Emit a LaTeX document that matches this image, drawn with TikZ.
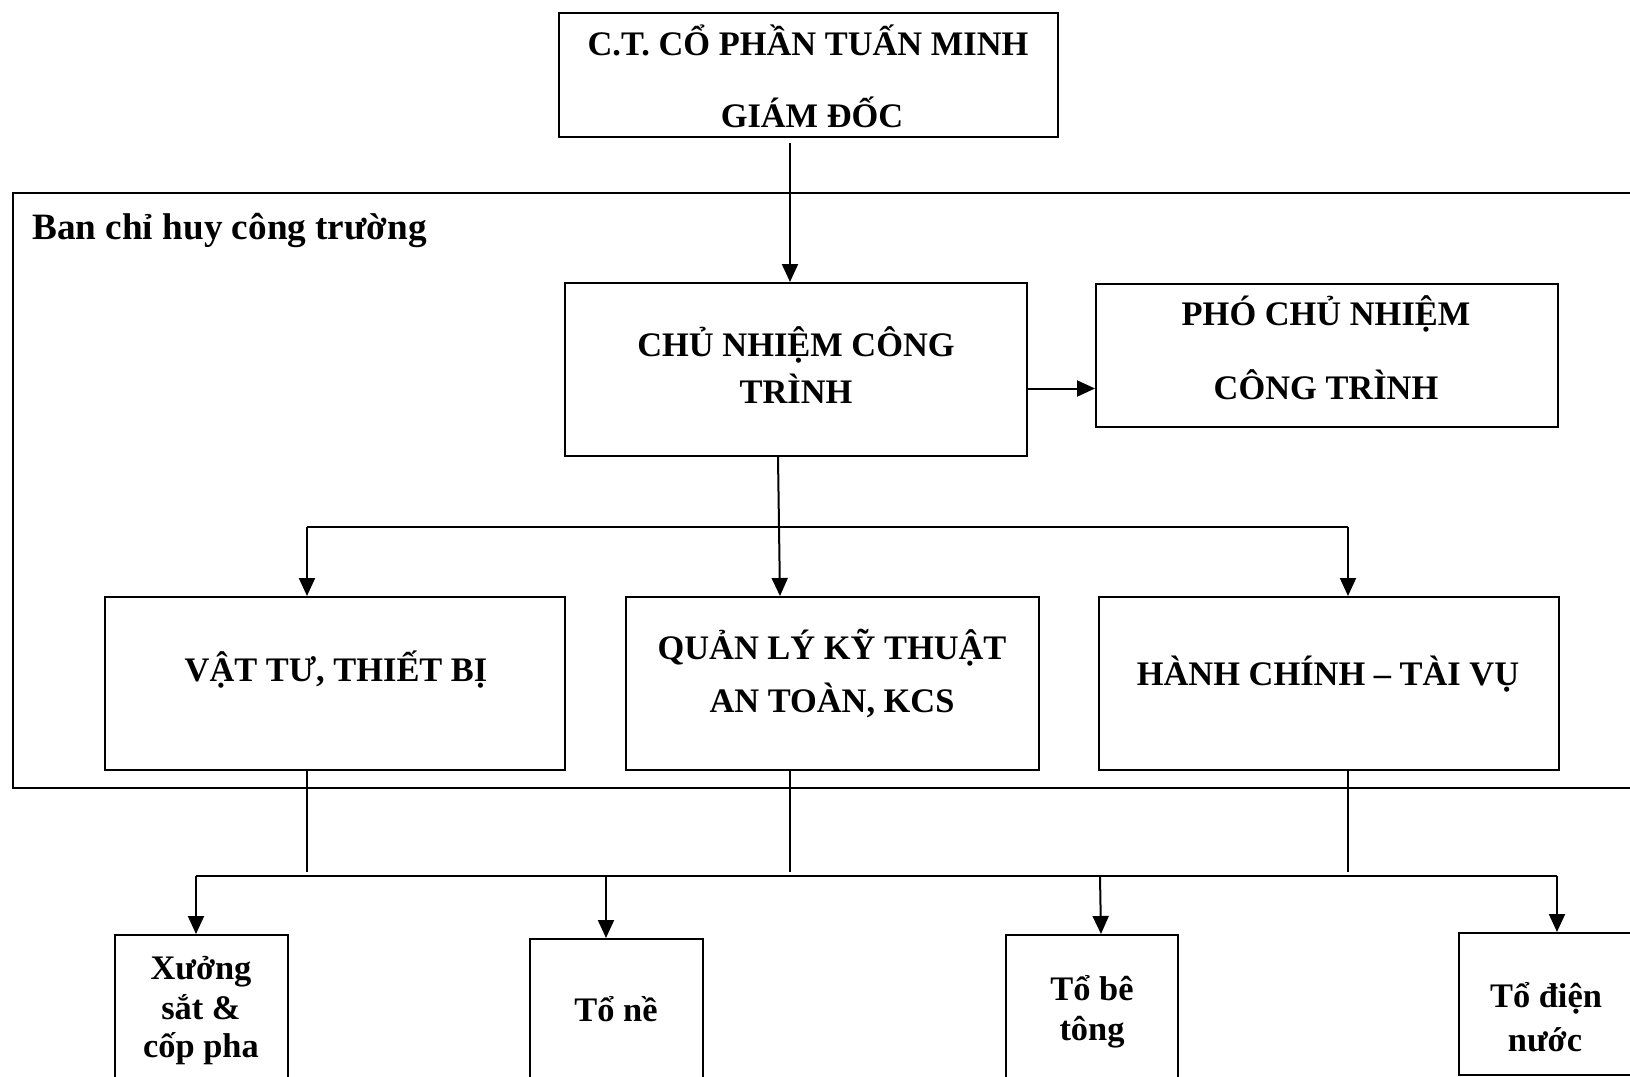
\documentclass[tikz,border=0pt]{standalone}
\usepackage{fontspec}
\setmainfont{Liberation Serif}
\usetikzlibrary{arrows.meta}
\begin{document}
\begin{tikzpicture}[x=0.5pt,y=-0.5pt,
  box/.style={draw,line width=1pt,rectangle,inner sep=0pt,anchor=center},
  txt/.style={font=\fontsize{17.2}{20}\selectfont\bfseries,inner sep=0pt,anchor=base},
  arr/.style={line width=1pt,-{Triangle[length=9pt,width=8pt]}},
  ln/.style={line width=1pt}]
\useasboundingbox (0,0) rectangle (1630,1077);
\clip (0,0) rectangle (1630,1077);
% boxes
\node[box,minimum width=249.5pt,minimum height=62.25pt] (top) at (808.5,74.75) {};
\node[box,minimum width=818.5pt,minimum height=297.5pt] (bch) at (831.5,490.5) {};
\node[box,minimum width=231pt,minimum height=86.5pt] (chu) at (796,369.5) {};
\node[box,minimum width=231pt,minimum height=71.5pt] (pho) at (1327,355.5) {};
\node[box,minimum width=230pt,minimum height=86.5pt] (vt) at (335,683.5) {};
\node[box,minimum width=206.5pt,minimum height=86.5pt] (ql) at (832.5,683.5) {};
\node[box,minimum width=230pt,minimum height=86.5pt] (hc) at (1329,683.5) {};
\node[box,minimum width=86.5pt,minimum height=82.5pt] (xs) at (201.5,1017.5) {};
\node[box,minimum width=86.5pt,minimum height=80.5pt] (tn) at (616.5,1019.5) {};
\node[box,minimum width=86pt,minimum height=82.5pt] (tb) at (1092,1017.5) {};
\node[box,minimum width=95.5pt,minimum height=71pt] (td) at (1554.5,1004) {};
% texts
\node[txt] (t1a) at (808,55) {C.T. CỔ PHẦN TUẤN MINH};
\node[txt] (t1b) at (812,127) {GIÁM ĐỐC};
\node[txt,anchor=base west,font=\fontsize{18.6}{22}\selectfont\bfseries] (tban) at (32,239) {Ban chỉ huy công trường};
\node[txt] (tca) at (796,356) {CHỦ NHIỆM CÔNG};
\node[txt] (tcb) at (796,403) {TRÌNH};
\node[txt] (tpa) at (1326,325) {PHÓ CHỦ NHIỆM};
\node[txt] (tpb) at (1326,399) {CÔNG TRÌNH};
\node[txt] (tvt) at (336,681) {VẬT TƯ, THIẾT BỊ};
\node[txt] (tqa) at (832,659) {QUẢN LÝ KỸ THUẬT};
\node[txt] (tqb) at (832,712) {AN TOÀN, KCS};
\node[txt] (thc) at (1328,685) {HÀNH CHÍNH – TÀI VỤ};
\node[txt] (txa) at (201,979) {Xưởng};
\node[txt] (txb) at (201,1019) {sắt \&};
\node[txt] (txc) at (201,1057) {cốp pha};
\node[txt] (ttn) at (616,1021) {Tổ nề};
\node[txt] (ttba) at (1092,1000) {Tổ bê};
\node[txt] (ttbb) at (1092,1040) {tông};
\node[txt] (ttda) at (1546,1007) {Tổ điện};
\node[txt] (ttdb) at (1545,1051) {nước};
% connectors
\draw[arr] ([xshift=-9.25pt,yshift=-2.5pt]top.south) -- ([xshift=-9.25pt]top.south |- chu.north);
\draw[arr] ([yshift=-9.5pt]chu.east) -- ([yshift=-9.5pt]chu.east -| pho.west);
\coordinate (b1l) at (307,527);
\coordinate (b1r) at (1348,527);
\draw[ln] (b1l) -- (b1r);
\draw[arr] (b1l) -- (b1l |- vt.north);
\draw[arr] (b1r) -- (b1r |- hc.north);
\draw[arr] ([xshift=-9pt]chu.south) -- ([xshift=-8pt]chu.south |- ql.north);
\draw[ln] ([xshift=-14pt]vt.south) -- ++(0,101);
\draw[ln] ([xshift=-21.25pt]ql.south) -- ++(0,101);
\draw[ln] ([xshift=9.5pt]hc.south) -- ++(0,101);
\coordinate (b2l) at (196,876);
\coordinate (b2a) at (606,876);
\coordinate (b2b) at (1100,876);
\coordinate (b2r) at (1557,876);
\draw[ln] (b2l) -- (b2r);
\draw[arr] (b2l) -- (b2l |- xs.north);
\draw[arr] (b2a) -- (b2a |- tn.north);
\draw[arr] (b2b) -- ([xshift=0.5pt]b2b |- tb.north);
\draw[arr] (b2r) -- (b2r |- td.north);
\end{tikzpicture}
\end{document}
